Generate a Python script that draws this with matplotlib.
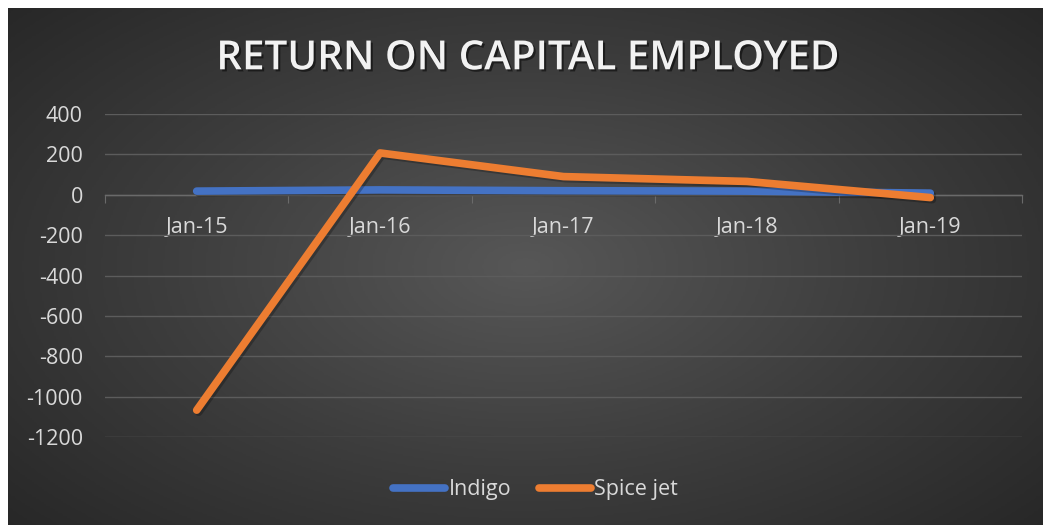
import numpy as np
import matplotlib
matplotlib.use("Agg")
import matplotlib.pyplot as plt
import matplotlib.patheffects as pe
from matplotlib.colors import LinearSegmentedColormap
from matplotlib.lines import Line2D

# data
categories = ["Jan-15", "Jan-16", "Jan-17", "Jan-18", "Jan-19"]
indigo = [18, 24, 20, 18, 8]
spicejet = [-1067, 207, 90, 66, -14]
yticks = [400, 200, 0, -200, -400, -600, -800, -1000, -1200]

plt.rcParams['font.family'] = ['Open Sans', 'DejaVu Sans']

fig = plt.figure(figsize=(10.44, 5.25), dpi=100)
fig.patch.set_facecolor('white')

# dark radial gradient background (Excel style)
bg = fig.add_axes([8 / 1044, 0, 1035 / 1044, 517 / 525])
yy, xx = np.mgrid[-1:1:300j, -1:1:600j]
r = np.sqrt(xx ** 2 + (yy * 0.9) ** 2)
cmap = LinearSegmentedColormap.from_list('bg', ['#575757', '#3d3d3d', '#262626'])
bg.imshow(r, cmap=cmap, aspect='auto', extent=[0, 1, 0, 1], vmin=0, vmax=1.4)
bg.axis('off')

ax = fig.add_axes([105 / 1044, 1 - 437 / 525, (1022 - 105) / 1044, (437 - 114) / 525])
ax.set_facecolor('none')

x = np.arange(len(categories))
shadow = [pe.SimpleLineShadow(offset=(1.5, -1.5), shadow_color='black', alpha=0.25), pe.Normal()]
ax.plot(x, indigo, color='#4472c4', lw=5.5, solid_capstyle='round', solid_joinstyle='round',
        path_effects=shadow, zorder=3)
ax.plot(x, spicejet, color='#ed7d31', lw=5.5, solid_capstyle='round', solid_joinstyle='round',
        path_effects=shadow, zorder=4)

ax.set_xlim(-0.5, len(categories) - 0.5)
ax.set_ylim(-1200, 400)
ax.set_yticks(yticks)
ax.set_yticklabels([str(v) for v in yticks])
ax.grid(axis='y', color='#5c5c5c', lw=1)
ax.set_axisbelow(True)

for s in ['top', 'right', 'left']:
    ax.spines[s].set_visible(False)
ax.spines['bottom'].set_position(('data', 0))
ax.spines['bottom'].set_color('#6a6a6a')
ax.spines['bottom'].set_linewidth(1)

ax.set_xticks(np.arange(-0.5, len(categories), 1.0))
ax.set_xticklabels([])
ax.set_xticks(x, minor=True)
ax.set_xticklabels(categories, minor=True)
ax.tick_params(axis='x', which='major', length=6, color='#6a6a6a', direction='out')
ax.tick_params(axis='x', which='minor', length=0, pad=16, labelsize=15.5, labelcolor='#d9d9d9')
ax.tick_params(axis='y', length=0, pad=16, labelsize=15.5, labelcolor='#d9d9d9')

fig.text(0.505, 0.887, "RETURN ON CAPITAL EMPLOYED", ha='center', va='center',
         fontsize=29, fontweight='semibold', color='#f2f2f2',
         path_effects=[pe.SimplePatchShadow(offset=(1.5, -1.5), shadow_rgbFace='black', alpha=0.5), pe.Normal()])

handles = [Line2D([], [], color='#4472c4', lw=5.5, solid_capstyle='round'),
           Line2D([], [], color='#ed7d31', lw=5.5, solid_capstyle='round')]
fig.legend(handles, ["Indigo", "Spice jet"], loc='center', bbox_to_anchor=(0.513, 0.067),
           ncol=2, frameon=False, fontsize=15.5, labelcolor='#d9d9d9',
           handlelength=2.4, handletextpad=0.15, columnspacing=1.3)

fig.savefig('out.png', dpi=100, facecolor=fig.get_facecolor())
